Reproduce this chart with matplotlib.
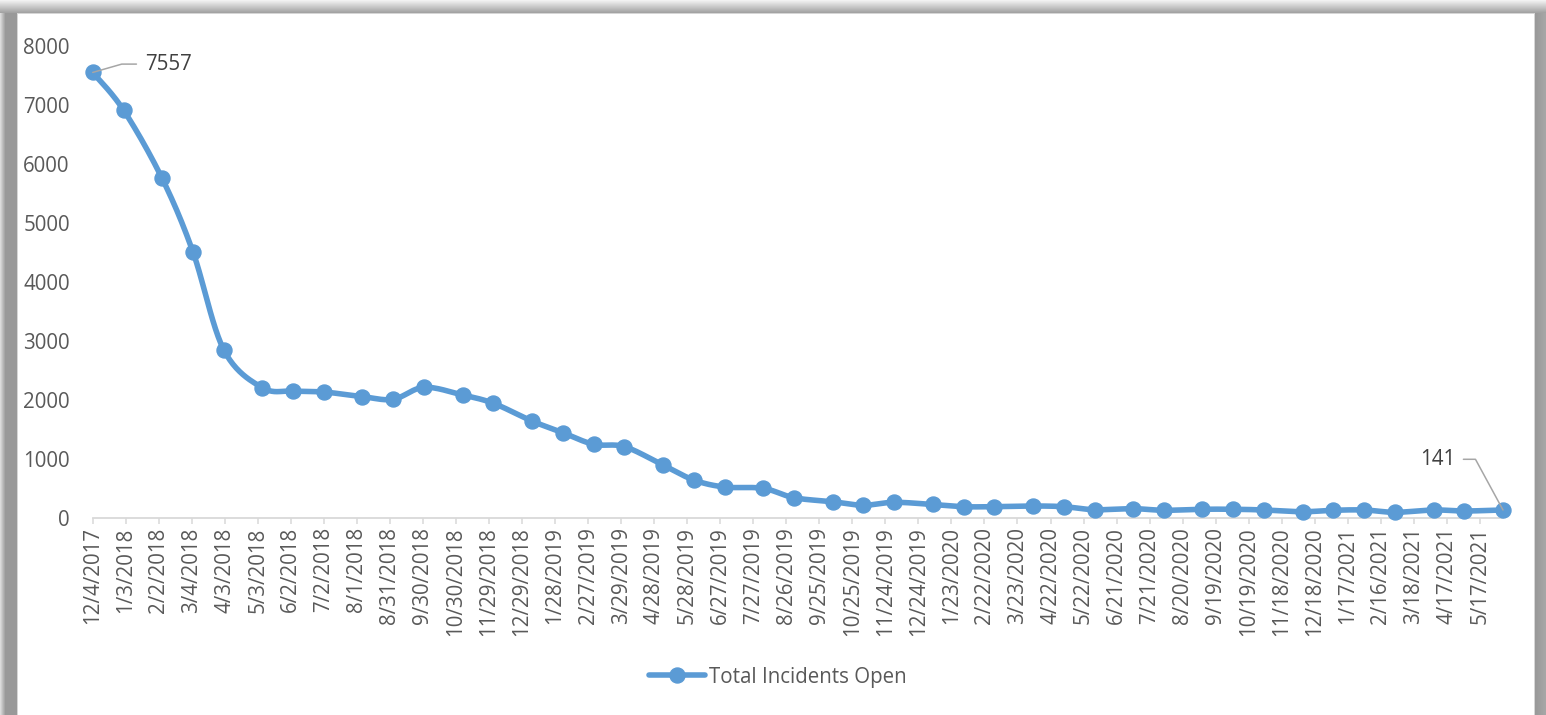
import numpy as np
import matplotlib
matplotlib.use("Agg")
import matplotlib.pyplot as plt
import matplotlib.dates as mdates
from matplotlib.lines import Line2D
from datetime import datetime

# ---------------- data ----------------
dates_str = [
    "2017-12-04",
    "2018-01-01", "2018-02-05", "2018-03-05", "2018-04-02", "2018-05-07", "2018-06-04",
    "2018-07-02", "2018-08-06", "2018-09-03", "2018-10-01", "2018-11-05", "2018-12-03",
    "2019-01-07", "2019-02-04", "2019-03-04", "2019-04-01", "2019-05-06", "2019-06-03",
    "2019-07-01", "2019-08-05", "2019-09-02", "2019-10-07", "2019-11-04", "2019-12-02",
    "2020-01-06", "2020-02-03", "2020-03-02", "2020-04-06", "2020-05-04", "2020-06-01",
    "2020-07-06", "2020-08-03", "2020-09-07", "2020-10-05", "2020-11-02", "2020-12-07",
    "2021-01-04", "2021-02-01", "2021-03-01", "2021-04-05", "2021-05-03", "2021-06-07",
]
incidents_open = [
    7557,
    6920, 5763, 4519, 2858, 2214, 2158,
    2141, 2062, 2017, 2220, 2090, 1949,
    1649, 1451, 1254, 1214, 903, 649,
    530, 508, 349, 281, 222, 271,
    234, 197, 197, 208, 197, 146,
    163, 136, 153, 153, 141, 112,
    136, 141, 102, 141, 124, 141,
]
series_name = "Total Incidents Open"
tick_labels = [
    "12/4/2017", "1/3/2018", "2/2/2018", "3/4/2018", "4/3/2018", "5/3/2018",
    "6/2/2018", "7/2/2018", "8/1/2018", "8/31/2018", "9/30/2018", "10/30/2018",
    "11/29/2018", "12/29/2018", "1/28/2019", "2/27/2019", "3/29/2019", "4/28/2019",
    "5/28/2019", "6/27/2019", "7/27/2019", "8/26/2019", "9/25/2019", "10/25/2019",
    "11/24/2019", "12/24/2019", "1/23/2020", "2/22/2020", "3/23/2020", "4/22/2020",
    "5/22/2020", "6/21/2020", "7/21/2020", "8/20/2020", "9/19/2020", "10/19/2020",
    "11/18/2020", "12/18/2020", "1/17/2021", "2/16/2021", "3/18/2021", "4/17/2021",
    "5/17/2021",
]
y_ticks = [0, 1000, 2000, 3000, 4000, 5000, 6000, 7000, 8000]

# ---------------- style ----------------
plt.rcParams['font.family'] = ['Open Sans', 'DejaVu Sans']
LINE_C = "#5B9BD5"
TICK_C = "#595959"
LABEL_C = "#404040"
AXIS_C = "#D9D9D9"
FS = 14.8

W, H = 1546, 715
fig = plt.figure(figsize=(W / 100, H / 100), dpi=100)

# ---------------- frame / shadow background ----------------
img = np.ones((H, W, 3))
top = 13
left = 17
right = 1535
for r in range(top):
    v = 0.95 - (0.95 - 0.64) * (r / (top - 1))
    img[r, :, :] = v
for c in range(left):
    v = 0.86 - (0.86 - 0.60) * min(1.0, c / 5.0)
    img[top:, c, :] = v
for c in range(right, W):
    v = 0.60 + 0.06 * (c - right) / (W - right)
    img[top:, c, :] = v
img[top:top + 1, left:right, :] = 0.84
img[top:, left:left + 1, :] = 0.84
img[top:, right - 1:right, :] = 0.84
fig.figimage(img, xo=0, yo=0, origin='upper', zorder=-10)

# ---------------- axes ----------------
x0, x1 = 92.7, 1503.0
y0, y1 = 518.3, 46.3
ax = fig.add_axes([x0 / W, (H - y0) / H, (x1 - x0) / W, (y0 - y1) / H])
ax.patch.set_alpha(0)

dates = [datetime.strptime(d, "%Y-%m-%d") for d in dates_str]
xn = mdates.date2num(dates)
yv = np.asarray(incidents_open, dtype=float)

# Excel-like smoothed line (cubic Bezier / Catmull-Rom through the points)
P = np.column_stack([xn, yv])
Pe = np.vstack([P[0], P, P[-1]])
curve = []
for i in range(len(P) - 1):
    p0, p1, p2, p3 = Pe[i], Pe[i + 1], Pe[i + 2], Pe[i + 3]
    c1 = p1 + (p2 - p0) / 6.0
    c2 = p2 - (p3 - p1) / 6.0
    t = np.linspace(0, 1, 25)[:, None]
    seg = ((1 - t) ** 3) * p1 + 3 * ((1 - t) ** 2) * t * c1 + 3 * (1 - t) * t ** 2 * c2 + t ** 3 * p2
    curve.append(seg if i == 0 else seg[1:])
curve = np.vstack(curve)

ax.plot(dates, yv, linestyle='none', marker='o', markersize=10.8,
        color=LINE_C, zorder=4, clip_on=False)
ax.plot(curve[:, 0], curve[:, 1], color=LINE_C, lw=4.0,
        solid_capstyle='round', zorder=3, clip_on=False)

ax.set_xlim(xn[0], xn[-1])
ax.set_ylim(0, 8000)

tick_dates = [datetime.strptime(s, "%m/%d/%Y") for s in tick_labels]
ax.set_xticks(mdates.date2num(tick_dates))
ax.set_xticklabels(tick_labels, rotation=90, fontsize=FS, color=TICK_C, va='top')
ax.set_yticks(y_ticks)
ax.set_yticklabels([str(v) for v in y_ticks], fontsize=FS, color=TICK_C)

for s in ['top', 'right', 'left']:
    ax.spines[s].set_visible(False)
ax.spines['bottom'].set_color(AXIS_C)
ax.spines['bottom'].set_linewidth(1.3)
ax.tick_params(axis='x', direction='out', length=4, width=1.1, color=AXIS_C, pad=2.5)
ax.tick_params(axis='y', length=0, pad=16.5)

# data labels with leader lines
ax.annotate(str(incidents_open[0]), xy=(xn[0], yv[0]), xytext=(37.5, 6),
            textcoords='offset points', ha='left', va='center',
            fontsize=FS, color=LABEL_C,
            arrowprops=dict(arrowstyle='-', color='#A6A6A6', lw=1.1,
                            shrinkA=4, shrinkB=0, relpos=(0, 0.5),
                            connectionstyle='angle,angleA=0,angleB=16,rad=0'),
            annotation_clip=False, zorder=6)
ax.annotate(str(incidents_open[-1]), xy=(xn[-1], yv[-1]), xytext=(-34.5, 36.5),
            textcoords='offset points', ha='right', va='center',
            fontsize=FS, color=LABEL_C,
            arrowprops=dict(arrowstyle='-', color='#A6A6A6', lw=1.1,
                            shrinkA=4, shrinkB=0, relpos=(1, 0.5),
                            connectionstyle='angle,angleA=0,angleB=118.5,rad=0'),
            annotation_clip=False, zorder=6)

# legend
handle = Line2D([], [], color=LINE_C, lw=4.0, marker='o', markersize=10.8,
                solid_capstyle='round')
fig.legend([handle], [series_name], loc='center', bbox_to_anchor=(0.503, 0.053),
           frameon=False, fontsize=FS, handlelength=2.7, handletextpad=0.2,
           labelcolor=TICK_C)

fig.savefig("out.png", dpi=100)
